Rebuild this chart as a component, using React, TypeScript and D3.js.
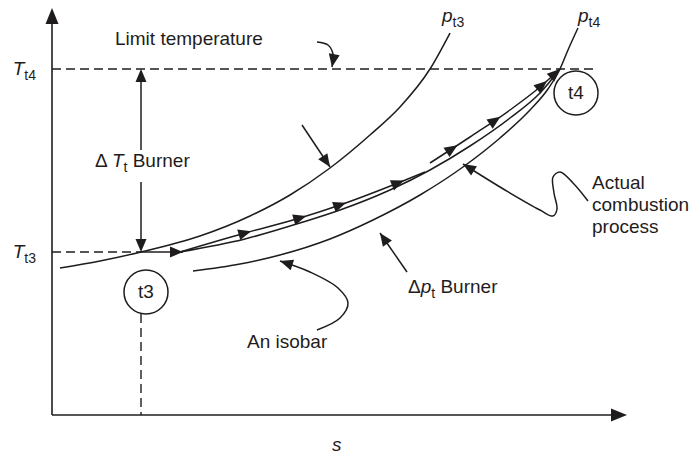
import * as d3 from "d3"
import { useEffect, useRef } from "react"

type Pt = [number, number]

// chart units: s (entropy) along x, T (total temperature) along y
const sMax = 575
const tMax = 407

const levelTt3 = 163
const levelTt4 = 346
const sT3 = 89
const sLimitEnd = 545

const isobarPt3: Pt[] = [
  [8, 147], [48, 154], [89, 163], [148, 179], [198, 199], [238, 220],
  [278, 247], [318, 280], [348, 308], [378, 346], [398, 382],
]
const isobarPt4: Pt[] = [
  [141, 144], [188, 151], [228, 160], [278, 176], [321, 195], [368, 220],
  [411, 248], [448, 277], [478, 305], [496, 326], [508, 346], [516, 365], [526, 387],
]
const actualProcess: Pt[] = [
  [128, 163], [193, 176], [248, 192], [288, 205], [338, 225], [378, 245],
  [418, 269], [458, 297], [488, 322], [508, 346],
]
const directionLow: Pt[] = [
  [128, 163], [193, 182], [248, 197], [288, 210], [346, 232], [373, 243],
]
const directionHigh: Pt[] = [[378, 252], [418, 278], [458, 305], [488, 328], [508, 346]]
const startStep: Pt[] = [[sT3, levelTt3], [131, levelTt3]]

const arrowsLow = [193, 248, 288, 346]
const arrowsHigh = [400, 443, 490]

const pointerLimit: Pt[] = [[265, 373], [276, 370], [281, 361], [280, 348]]
const pointerPt3: Pt[] = [[250, 290], [278, 248]]
const pointerIsobar: Pt[] = [[265, 85], [288, 97], [296, 112], [286, 127], [258, 143], [228, 154]]
const pointerDeltaP: Pt[] = [[355, 143], [328, 182]]
const pointerActual: Pt[] = [
  [536, 214], [521, 232], [508, 243], [501, 238], [502, 222], [505, 206],
  [501, 199], [488, 205], [453, 225], [411, 251],
]

const stateT3: Pt = [94, 123]
const stateT4: Pt = [524, 322]
const actualLines = ["Actual", "combustion", "process"]

export default function App() {
  const svgRef = useRef<SVGSVGElement>(null)

  useEffect(() => {
    if (!svgRef.current) return
    const width = 691
    const height = 456
    const svg = d3.select(svgRef.current)
    svg.selectAll("*").remove()
    svg.attr("width", width).attr("height", height)

    const x = d3.scaleLinear().domain([0, sMax]).range([52, 627])
    const y = d3.scaleLinear().domain([0, tMax]).range([415, 8])
    const ink = "#1f1c1d"
    const font = "'Liberation Sans', Arial, Helvetica, sans-serif"

    const smooth = d3
      .line<Pt>()
      .x((d) => x(d[0]))
      .y((d) => y(d[1]))
      .curve(d3.curveMonotoneX)
    const bendy = d3
      .line<Pt>()
      .x((d) => x(d[0]))
      .y((d) => y(d[1]))
      .curve(d3.curveCatmullRom.alpha(0.5))

    const head = (px: number, py: number, angle: number, len = 13, half = 5.5, centered = false) => {
      const back = centered ? len / 2 : len
      const fwd = centered ? len / 2 : 0
      const c = Math.cos(angle)
      const s = Math.sin(angle)
      const tip = [px + c * fwd, py + s * fwd]
      const bx = px - c * back
      const by = py - s * back
      const p1 = [bx - s * half, by + c * half]
      const p2 = [bx + s * half, by - c * half]
      svg.append("path").attr("d", `M${tip}L${p1}L${p2}Z`).attr("fill", ink)
    }

    const curve = (pts: Pt[], gen = smooth, w = 1.5) =>
      svg
        .append("path")
        .attr("d", gen(pts) ?? "")
        .attr("fill", "none")
        .attr("stroke", ink)
        .attr("stroke-width", w)
        .node() as SVGPathElement

    const lengthAtS = (node: SVGPathElement, sv: number) => {
      let lo = 0
      let hi = node.getTotalLength()
      for (let i = 0; i < 30; i++) {
        const mid = (lo + hi) / 2
        if (node.getPointAtLength(mid).x < x(sv)) lo = mid
        else hi = mid
      }
      return lo
    }

    const headAt = (node: SVGPathElement, L: number, centered: boolean) => {
      const total = node.getTotalLength()
      const a = node.getPointAtLength(Math.max(0, L - 3))
      const b = node.getPointAtLength(Math.min(total, L + (L >= total ? 0 : 3)))
      const p = node.getPointAtLength(L)
      head(p.x, p.y, Math.atan2(b.y - a.y, b.x - a.x), 13, 5.5, centered)
    }

    const pointer = (pts: Pt[]) => {
      const node = curve(pts, bendy)
      headAt(node, node.getTotalLength(), false)
    }

    const label = (
      sx: number,
      ty: number,
      parts: { t: string; italic?: boolean; sub?: boolean }[],
      anchor = "start",
      size = 19,
    ) => {
      const text = svg
        .append("text")
        .attr("x", x(sx))
        .attr("y", y(ty))
        .attr("text-anchor", anchor)
        .style("font-family", font)
        .style("font-size", `${size}px`)
        .style("fill", ink)
      let shifted = false
      parts.forEach((p) => {
        const span = text.append("tspan").text(p.t)
        if (p.italic) span.style("font-style", "italic")
        if (p.sub && !shifted) {
          span.attr("dy", 5).style("font-size", `${size - 5}px`)
          shifted = true
        } else if (p.sub) {
          span.style("font-size", `${size - 5}px`)
        } else if (shifted) {
          span.attr("dy", -5)
          shifted = false
        }
      })
    }

    // axes
    svg
      .append("line")
      .attr("x1", x(0)).attr("x2", x(0))
      .attr("y1", y(0)).attr("y2", y(tMax) + 8)
      .attr("stroke", ink).attr("stroke-width", 1.6)
    head(x(0), y(tMax), -Math.PI / 2, 16, 6.5)
    svg
      .append("line")
      .attr("x1", x(0)).attr("x2", x(sMax) - 8)
      .attr("y1", y(0)).attr("y2", y(0))
      .attr("stroke", ink).attr("stroke-width", 1.6)
    head(x(sMax), y(0), 0, 16, 6.5)

    // reference levels
    const dashed = (x1: number, y1: number, x2: number, y2: number) =>
      svg
        .append("line")
        .attr("x1", x1).attr("y1", y1).attr("x2", x2).attr("y2", y2)
        .attr("stroke", ink).attr("stroke-width", 1.4)
        .attr("stroke-dasharray", "9,5")
    dashed(x(0), y(levelTt4), x(sLimitEnd), y(levelTt4))
    dashed(x(0), y(levelTt3), x(sT3), y(levelTt3))
    dashed(x(sT3), y(stateT3[1]) + 22, x(sT3), y(0))

    // isobars and the process
    curve(isobarPt3)
    curve(isobarPt4)
    curve(actualProcess)
    const lowNode = curve(directionLow)
    arrowsLow.forEach((sv) => headAt(lowNode, lengthAtS(lowNode, sv), true))
    const highNode = curve(directionHigh)
    arrowsHigh.forEach((sv) => headAt(highNode, lengthAtS(highNode, sv), true))
    headAt(highNode, highNode.getTotalLength(), false)
    const stepNode = curve(startStep)
    headAt(stepNode, stepNode.getTotalLength(), false)

    // delta T double arrow
    svg.append("line")
      .attr("x1", x(sT3)).attr("x2", x(sT3))
      .attr("y1", y(265)).attr("y2", y(levelTt4) + 10)
      .attr("stroke", ink).attr("stroke-width", 1.5)
    head(x(sT3), y(levelTt4), -Math.PI / 2)
    svg.append("line")
      .attr("x1", x(sT3)).attr("x2", x(sT3))
      .attr("y1", y(233)).attr("y2", y(levelTt3) - 10)
      .attr("stroke", ink).attr("stroke-width", 1.5)
    head(x(sT3), y(levelTt3), Math.PI / 2)

    // pointers
    pointer(pointerLimit)
    pointer(pointerPt3)
    pointer(pointerIsobar)
    pointer(pointerDeltaP)
    pointer(pointerActual)

    // state circles
    ;[
      { c: stateT3, t: "t3" },
      { c: stateT4, t: "t4" },
    ].forEach((d) => {
      svg.append("circle")
        .attr("cx", x(d.c[0])).attr("cy", y(d.c[1])).attr("r", 22)
        .attr("fill", "none").attr("stroke", ink).attr("stroke-width", 1.5)
      svg.append("text")
        .attr("x", x(d.c[0])).attr("y", y(d.c[1]) + 6)
        .attr("text-anchor", "middle")
        .style("font-family", font).style("font-size", "19px").style("fill", ink)
        .text(d.t)
    })

    // labels
    label(63, 370, [{ t: "Limit temperature" }])
    label(43, 248, [{ t: "\u0394 " }, { t: "T", italic: true }, { t: "t", sub: true }, { t: " Burner" }])
    label(390, 393, [{ t: "p", italic: true }, { t: "t3", sub: true }])
    label(526, 393, [{ t: "p", italic: true }, { t: "t4", sub: true }])
    label(-16, levelTt4 - 6, [{ t: "T", italic: true }, { t: "t4", sub: true }], "end")
    label(-16, levelTt3 - 6, [{ t: "T", italic: true }, { t: "t3", sub: true }], "end")
    label(280, -36, [{ t: "s", italic: true }])
    label(195, 67, [{ t: "An isobar" }])
    label(356, 122, [{ t: "\u0394" }, { t: "p", italic: true }, { t: "t", sub: true }, { t: " Burner" }])
    actualLines.forEach((t, i) => label(540, 226 - i * 22, [{ t }]))
  }, [])

  return (
    <div style={{ position: "absolute", left: 0, top: 0, background: "#fff" }}>
      <svg ref={svgRef} style={{ display: "block" }}></svg>
    </div>
  )
}
